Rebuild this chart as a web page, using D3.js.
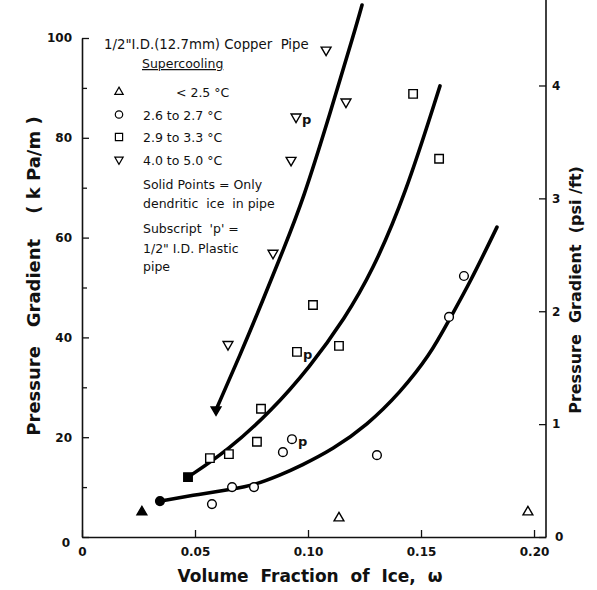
<!DOCTYPE html>
<html>
<head>
<meta charset="utf-8">
<script src="https://cdn.jsdelivr.net/npm/d3@7"></script>
<style>
body { margin: 0; background: #fff; }
svg text { font-family: "DejaVu Sans", sans-serif; fill: #111; }
</style>
</head>
<body>
<svg id="chart" width="597" height="590"></svg>
<script>
// points: x = volume fraction of ice, y = kPa/m, solid = dendritic only, p = plastic pipe
let under25 = [
  {x: 0.0265, y: 5.0, solid: true},
  {x: 0.1137, y: 3.8},
  {x: 0.1973, y: 5.0}
];
let from26to27 = [
  {x: 0.0345, y: 7.2, solid: true},
  {x: 0.0575, y: 6.6},
  {x: 0.0664, y: 10.0},
  {x: 0.0761, y: 10.0},
  {x: 0.0889, y: 17.0},
  {x: 0.0929, y: 19.6, p: true},
  {x: 0.1305, y: 16.4},
  {x: 0.1624, y: 44.1},
  {x: 0.1690, y: 52.3}
];
let from29to33 = [
  {x: 0.0469, y: 12.0, solid: true},
  {x: 0.0566, y: 15.8},
  {x: 0.0650, y: 16.6},
  {x: 0.0774, y: 19.1},
  {x: 0.0792, y: 25.7},
  {x: 0.0951, y: 37.1, p: true},
  {x: 0.1022, y: 46.5},
  {x: 0.1137, y: 38.3},
  {x: 0.1465, y: 88.8},
  {x: 0.1580, y: 75.8}
];
let from40to50 = [
  {x: 0.0593, y: 25.5, solid: true},
  {x: 0.0646, y: 38.6},
  {x: 0.0845, y: 56.9},
  {x: 0.0925, y: 75.5},
  {x: 0.0947, y: 84.2, p: true},
  {x: 0.1080, y: 97.6},
  {x: 0.1168, y: 87.2}
];

// fitted curves
let curveLow = [[0.0345, 7.2], [0.0522, 8.6], [0.0668, 9.6], [0.0761, 10.4], [0.0876, 12.4], [0.0965, 14.2],
  [0.1111, 17.6], [0.1261, 22.4], [0.1407, 28.9], [0.1540, 36.5], [0.1624, 43.5], [0.1717, 51.0], [0.1836, 62.1]];
let curveMid = [[0.0469, 12.0], [0.0646, 17.4], [0.0832, 25.0], [0.1009, 34.1], [0.1164, 43.9],
  [0.1283, 53.1], [0.1429, 68.3], [0.1584, 90.4]];
let curveHigh = [[0.0593, 25.5], [0.0700, 36.5], [0.0801, 47.5], [0.0890, 57.5], [0.0978, 67.5], [0.1095, 84.5],
  [0.1208, 101.6], [0.1239, 106.6]];

let xTicks = [0, 0.05, 0.10, 0.15, 0.20];
let yTicks = [0, 20, 40, 60, 80, 100];
let yMinor = [10, 30, 50, 70, 90];
let psiTicks = [0, 1, 2, 3, 4];
let KPA_PER_PSIFT = 22.621;

let svg = d3.select('#chart');
let x = d3.scaleLinear().domain([0, 0.2053]).range([82, 546]);
let y = d3.scaleLinear().domain([0, 100]).range([537, 38]);
let yPsi = d3.scaleLinear().domain([0, 100 / KPA_PER_PSIFT]).range([537, 38]);

// axes
let xAxis = d3.axisBottom(x).tickValues(xTicks).tickSizeInner(-7).tickSizeOuter(0).tickPadding(10)
  .tickFormat(function(d){ return d === 0 ? '0' : d3.format('.2f')(d); });
svg.append('g').attr('transform', 'translate(0,537)').call(xAxis);

let yAxis = d3.axisLeft(y).tickValues(yTicks).tickSizeInner(-7).tickSizeOuter(0).tickPadding(10);
let gy = svg.append('g').attr('transform', 'translate(82,0)').call(yAxis);
gy.selectAll('.tick').filter(function(d){ return d === 0; }).select('text')
  .attr('dx', -2).attr('dy', '0.8em');

svg.append('g').attr('transform', 'translate(82,0)')
  .call(d3.axisLeft(y).tickValues(yMinor).tickSizeInner(-5).tickSizeOuter(0).tickFormat(''))
  .select('.domain').remove();

let psiAxis = d3.axisRight(yPsi).tickValues(psiTicks).tickSizeInner(-7).tickSizeOuter(0).tickPadding(6)
  .tickFormat(d3.format('d'));
let gr = svg.append('g').attr('transform', 'translate(546,0)').call(psiAxis);
gr.select('.domain').remove();
gr.selectAll('.tick').filter(function(d){ return d === 0; }).select('text').attr('dx', 3);
svg.append('line').attr('x1', 546).attr('x2', 546).attr('y1', 0).attr('y2', 537)
  .attr('stroke', '#111').attr('stroke-width', 1.6);

svg.selectAll('.domain').attr('stroke', '#111').attr('stroke-width', 1.6);
svg.selectAll('.tick line').attr('stroke', '#111').attr('stroke-width', 1.3);
svg.selectAll('.tick text').style('font-size', '12px').style('font-weight', 'bold').attr('fill', '#111');

// axis titles
svg.append('text').attr('x', 310).attr('y', 582).attr('text-anchor', 'middle')
  .style('font-size', '17px').style('font-weight', 'bold').attr('xml:space', 'preserve')
  .text('Volume  Fraction  of  Ice,  ω');
svg.append('text').attr('transform', 'translate(40,276) rotate(-90)').attr('text-anchor', 'middle')
  .style('font-size', '18px').style('font-weight', 'bold').attr('xml:space', 'preserve')
  .text('Pressure   Gradient    ( k Pa/m )');
svg.append('text').attr('transform', 'translate(581,290) rotate(-90)').attr('text-anchor', 'middle')
  .style('font-size', '16px').style('font-weight', 'bold').attr('xml:space', 'preserve')
  .text('Pressure  Gradient  (psi /ft)');

// curves
let line = d3.line().x(function(d){ return x(d[0]); }).y(function(d){ return y(d[1]); })
  .curve(d3.curveBasis);
[curveLow, curveMid, curveHigh].forEach(function(c){
  svg.append('path').attr('d', line(c)).attr('fill', 'none')
    .attr('stroke', '#000').attr('stroke-width', 3.6).attr('stroke-linecap', 'round');
});

// markers
let symbolOf = {
  up: d3.symbol().type(d3.symbolTriangle).size(42),
  circle: d3.symbol().type(d3.symbolCircle).size(60),
  square: d3.symbol().type(d3.symbolSquare).size(72),
  down: d3.symbol().type(d3.symbolTriangle).size(42)
};
let groups = [
  {data: under25, shape: 'up', rot: 0},
  {data: from26to27, shape: 'circle', rot: 0},
  {data: from29to33, shape: 'square', rot: 0},
  {data: from40to50, shape: 'down', rot: 180}
];
groups.forEach(function(g){
  svg.append('g').selectAll('path').data(g.data).enter().append('path')
    .attr('d', symbolOf[g.shape]())
    .attr('transform', function(d){ return 'translate(' + x(d.x) + ',' + y(d.y) + ') rotate(' + g.rot + ')'; })
    .attr('fill', function(d){ return d.solid ? '#000' : '#fff'; })
    .attr('stroke', '#000').attr('stroke-width', 1.4);
  svg.append('g').selectAll('text').data(g.data.filter(function(d){ return d.p; })).enter().append('text')
    .attr('x', function(d){ return x(d.x) + 6; })
    .attr('y', function(d){ return y(d.y) + 7; })
    .style('font-size', '13px').style('font-weight', 'bold').text('p');
});

// legend
let legend = svg.append('g');
legend.append('text').attr('x', 104).attr('y', 49).style('font-size', '13.3px').attr('xml:space', 'preserve')
  .text('1/2"I.D.(12.7mm) Copper  Pipe');
legend.append('text').attr('x', 142).attr('y', 68).style('font-size', '12.5px')
  .attr('text-decoration', 'underline').text('Supercooling');
let legendRows = [
  {shape: 'up', rot: 0, label: '< 2.5 °C', lx: 176},
  {shape: 'circle', rot: 0, label: '2.6 to 2.7 °C', lx: 143},
  {shape: 'square', rot: 0, label: '2.9 to 3.3 °C', lx: 143},
  {shape: 'down', rot: 180, label: '4.0 to 5.0 °C', lx: 143}
];
legendRows.forEach(function(r, i){
  let yy = 92 + i * 22.5;
  legend.append('path').attr('d', symbolOf[r.shape]())
    .attr('transform', 'translate(119,' + yy + ') rotate(' + r.rot + ') scale(0.85)')
    .attr('fill', '#fff').attr('stroke', '#000').attr('stroke-width', 1.4);
  legend.append('text').attr('x', r.lx).attr('y', yy + 5).style('font-size', '12.5px').text(r.label);
});
let notes = [
  ['Solid Points = Only', 189],
  ['dendritic  ice  in pipe', 208],
  ["Subscript  'p' =", 233],
  ['1/2" I.D. Plastic', 253],
  ['pipe', 271]
];
notes.forEach(function(n){
  legend.append('text').attr('x', 143).attr('y', n[1]).style('font-size', '12.5px')
    .attr('xml:space', 'preserve').text(n[0]);
});
</script>
</body>
</html>
